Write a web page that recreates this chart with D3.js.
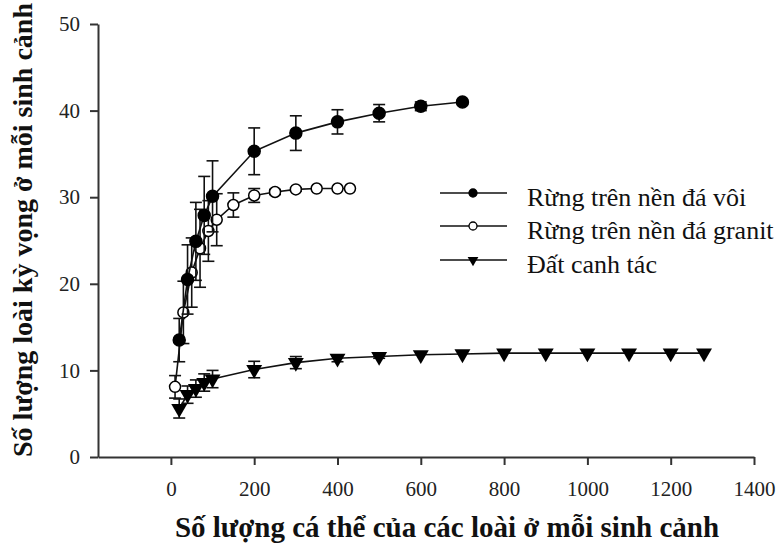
<!DOCTYPE html>
<html>
<head>
<meta charset="utf-8">
<script src="https://cdn.jsdelivr.net/npm/d3@7"></script>
<style>
  body { margin: 0; background: #fff; }
  svg { display: block; }
</style>
</head>
<body>
<div id="chart"></div>
<script>
var width  = 782;
var height = 545;

// Rừng trên nền đá vôi (filled circles)
var limeX   = [20, 40, 60, 80, 100, 200, 300, 400, 500, 600, 700];
var limeY   = [13.5, 20.5, 24.9, 27.9, 30.1, 35.3, 37.4, 38.7, 39.7, 40.5, 41.0];
var limeErr = [2.5, 4.0, 4.5, 4.5, 4.1, 2.7, 2.0, 1.4, 1.0, 0.5, 0.2];

// Rừng trên nền đá granit (open circles)
var graX   = [10, 30, 50, 70, 90, 110, 150, 200, 250, 300, 350, 400, 430];
var graY   = [8.1, 16.7, 21.3, 24.1, 26.1, 27.4, 29.1, 30.2, 30.6, 30.9, 31.0, 31.0, 31.0];
var graErr = [1.3, 3.6, 4.0, 4.5, 3.5, 3.0, 1.4, 0.8, 0.3, 0.2, 0, 0, 0];

// Đất canh tác (filled down-triangles)
var farmX   = [20, 40, 60, 80, 100, 200, 300, 400, 500, 600, 700, 800, 900, 1000, 1100, 1200, 1280];
var farmY   = [5.6, 7.2, 7.9, 8.6, 9.0, 10.1, 10.9, 11.4, 11.6, 11.8, 11.9, 12.0, 12.0, 12.0, 12.0, 12.0, 12.0];
var farmErr = [1.1, 1.0, 1.0, 1.0, 1.0, 0.95, 0.7, 0.4, 0.2, 0.1, 0, 0, 0, 0, 0, 0, 0];

var xTicks = [0, 200, 400, 600, 800, 1000, 1200, 1400];
var yTicks = [0, 10, 20, 30, 40, 50];

var legendNames = ["Rừng trên nền đá vôi", "Rừng trên nền đá granit", "Đất canh tác"];

var xTitle = "Số lượng cá thể của các loài ở mỗi sinh cảnh";
var yTitle = "Số lượng loài kỳ vọng ở mỗi sinh cảnh";

var serif = "'Liberation Serif', 'Times New Roman', serif";

var svg = d3.select('#chart')
  .append('svg')
  .attr('width', width)
  .attr('height', height);

var x = d3.scaleLinear().domain([-175, 1400]).range([98, 754]);
var y = d3.scaleLinear().domain([0, 50]).range([457, 24]);

// axes
var xAxis = svg.append('g')
  .attr('transform', 'translate(0,' + y(0) + ')')
  .call(d3.axisBottom(x).tickValues(xTicks).tickFormat(d3.format('d'))
          .tickSize(8).tickPadding(16).tickSizeOuter(0));
var yAxis = svg.append('g')
  .attr('transform', 'translate(' + x(-175) + ',0)')
  .call(d3.axisLeft(y).tickValues(yTicks).tickSize(8).tickPadding(10).tickSizeOuter(0));

[xAxis, yAxis].forEach(function(a) {
  a.select('.domain').attr('stroke', '#333').attr('stroke-width', 2);
  a.selectAll('.tick line').attr('stroke', '#333').attr('stroke-width', 2);
  a.selectAll('.tick text')
    .style('font-family', serif)
    .style('font-size', '21px')
    .attr('fill', '#222');
});

// axis titles
svg.append('text')
  .attr('x', 447)
  .attr('y', 537)
  .attr('text-anchor', 'middle')
  .style('font-family', serif)
  .style('font-size', '29px')
  .style('font-weight', 'bold')
  .attr('fill', '#111')
  .text(xTitle);

svg.append('text')
  .attr('transform', 'translate(32,230)rotate(-90)')
  .attr('text-anchor', 'middle')
  .style('font-family', serif)
  .style('font-size', '28px')
  .style('font-weight', 'bold')
  .attr('fill', '#111')
  .text(yTitle);

var series = [
  { xs: farmX, ys: farmY, es: farmErr, kind: 'tri' },
  { xs: graX,  ys: graY,  es: graErr,  kind: 'open' },
  { xs: limeX, ys: limeY, es: limeErr, kind: 'fill' }
];

var line = d3.line()
  .x(function(d) { return x(d.x); })
  .y(function(d) { return y(d.y); });

var triSym = d3.symbol().type(d3.symbolTriangle).size(110);

series.forEach(function(s) {
  var pts = s.xs.map(function(v, i) { return { x: v, y: s.ys[i], e: s.es[i] }; });
  var g = svg.append('g');

  g.append('path')
    .datum(pts)
    .attr('d', line)
    .attr('fill', 'none')
    .attr('stroke', '#111')
    .attr('stroke-width', 1.6);

  var bars = g.selectAll('.err')
    .data(pts.filter(function(d) { return d.e > 0.15; }))
    .enter().append('g')
    .attr('stroke', '#111')
    .attr('stroke-width', 1.6);
  bars.append('line')
    .attr('x1', function(d) { return x(d.x); })
    .attr('x2', function(d) { return x(d.x); })
    .attr('y1', function(d) { return y(d.y - d.e); })
    .attr('y2', function(d) { return y(d.y + d.e); });
  [-1, 1].forEach(function(sg) {
    bars.append('line')
      .attr('x1', function(d) { return x(d.x) - 6; })
      .attr('x2', function(d) { return x(d.x) + 6; })
      .attr('y1', function(d) { return y(d.y + sg * d.e); })
      .attr('y2', function(d) { return y(d.y + sg * d.e); });
  });

  if (s.kind === 'tri') {
    g.selectAll('.m').data(pts).enter().append('path')
      .attr('d', triSym)
      .attr('transform', function(d) { return 'translate(' + x(d.x) + ',' + y(d.y) + ')rotate(180)'; })
      .attr('fill', '#000');
  } else {
    g.selectAll('.m').data(pts).enter().append('circle')
      .attr('cx', function(d) { return x(d.x); })
      .attr('cy', function(d) { return y(d.y); })
      .attr('r', s.kind === 'fill' ? 6 : 5.5)
      .attr('fill', s.kind === 'fill' ? '#000' : '#fff')
      .attr('stroke', '#000')
      .attr('stroke-width', 1.5);
  }
});

// legend
var legend = svg.append('g');
var rowY = [193, 226, 260];
legendNames.forEach(function(name, i) {
  var row = legend.append('g').attr('transform', 'translate(0,' + rowY[i] + ')');
  row.append('line')
    .attr('x1', 440).attr('x2', 507)
    .attr('stroke', '#111').attr('stroke-width', 1.6);
  if (i === 2) {
    row.append('path')
      .attr('d', d3.symbol().type(d3.symbolTriangle).size(50))
      .attr('transform', 'translate(473,0)rotate(180)')
      .attr('fill', '#000');
  } else {
    row.append('circle')
      .attr('cx', 473).attr('cy', 0).attr('r', 4)
      .attr('fill', i === 0 ? '#000' : '#fff')
      .attr('stroke', '#000').attr('stroke-width', 1.3);
  }
  row.append('text')
    .attr('x', 527)
    .attr('y', 13)
    .style('font-family', serif)
    .style('font-size', '26px')
    .attr('fill', '#111')
    .text(name);
});
</script>
</body>
</html>
